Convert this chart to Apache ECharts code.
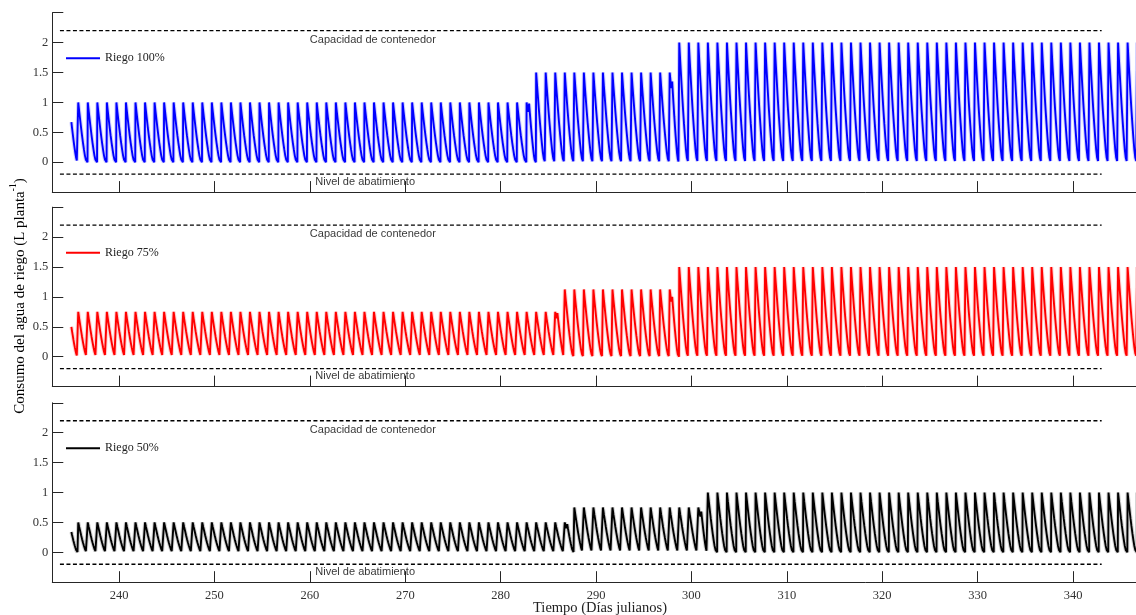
<!DOCTYPE html>
<html>
<head>
<meta charset="utf-8">
<script src="https://cdn.jsdelivr.net/npm/echarts@6/dist/echarts.min.js"></script>
<style>
  html, body { margin: 0; padding: 0; background: #ffffff; }
  #chart { width: 1136px; height: 615px; }
</style>
</head>
<body>
<div id="chart"></div>
<script>
// ---- data -------------------------------------------------------------
const xTickDays = [240, 250, 260, 270, 280, 290, 300, 310, 320, 330, 340];
const yTicks = [-0.5, 0, 0.5, 1, 1.5, 2, 2.5];

const seriesNames = ['Riego 100%', 'Riego 75%', 'Riego 50%'];
const seriesColors = ['#0000ff', '#ff0000', '#000000'];

// container capacity / depletion thresholds (L planta-1)
const capacityLevel = 2.2;
const depletionLevel = -0.2;
const guideFrom = 233.8;
const guideTo = 343.0;
const guideLabels = ['Capacidad de contenedor', 'Nivel de abatimiento'];
const guideLabelDays = [266.6, 265.8];

// first reading and the end of the record (Julian day)
const firstDay = 235.0;
const lastDay = 347.2;
const firstValue100 = 0.67;
const firstValue75 = 0.50;
const firstValue50 = 0.34;

// irrigation refills: day of first refill at each dose and the dose reached
const refillStart100 = [235.72, 283.72, 298.72];
const refillLevel100 = [1.0, 1.5, 2.0];
const refillStart75 = [235.72, 286.72, 298.72];
const refillLevel75 = [0.75, 1.125, 1.5];
const refillStart50 = [235.72, 287.72, 301.72];
const refillLevel50 = [0.5, 0.75, 1.0];

// short extra refill before a dose change: [dip day, dip value, refill day, refill value]
const extraRefill100 = [[282.88, 0.84, 282.98, 0.98], [297.88, 1.24, 297.98, 1.35]];
const extraRefill75 = [[285.86, 0.64, 285.95, 0.73], [297.88, 0.92, 297.98, 1.00]];
const extraRefill50 = [[286.88, 0.40, 286.98, 0.47], [300.93, 0.60, 301.03, 0.68]];

// daily drawdown after a refill: days elapsed and share of the refilled volume left
const cycleOffset = [0, 0.10, 0.20, 0.30, 0.40, 0.50, 0.60, 0.70, 0.80, 0.90, 0.97];
const cycleFraction = [1, 0.85, 0.71, 0.57, 0.44, 0.32, 0.21, 0.11, 0.04, 0.01, 0];
const riseTime = 0.03;

// ---- series construction --------------------------------------------
function levelAt(starts, levels, t) {
  let v = levels[0];
  for (let i = 0; i < starts.length; i++) {
    if (t >= starts[i] - 1e-6) v = levels[i];
  }
  return v;
}

function drawdown(pts, t0, v0, t1) {
  const span = cycleOffset[cycleOffset.length - 1];
  for (let i = 0; i < cycleOffset.length; i++) {
    pts.push([t0 + cycleOffset[i] / span * (t1 - t0), v0 * cycleFraction[i]]);
  }
}

function buildSeries(starts, levels, extras, startValue) {
  const pts = [];
  drawdown(pts, firstDay, startValue, starts[0] - riseTime);
  for (let k = 0; starts[0] + k < lastDay; k++) {
    const t = starts[0] + k;
    const level = levelAt(starts, levels, t);
    const end = t + 1 - riseTime;
    const extra = extras.find(e => e[2] > t && e[2] < t + 1);
    if (extra) {
      pts.push([t, level]);
      pts.push([extra[0], extra[1]]);
      drawdown(pts, extra[2], extra[3], end);
    } else {
      drawdown(pts, t, level, end);
    }
  }
  return pts;
}

const seriesData = [
  buildSeries(refillStart100, refillLevel100, extraRefill100, firstValue100),
  buildSeries(refillStart75, refillLevel75, extraRefill75, firstValue75),
  buildSeries(refillStart50, refillLevel50, extraRefill50, firstValue50)
];

// ---- layout -----------------------------------------------------------
const gridTops = [12.7, 207.2, 402.8];
const gridHeight = 179.4;
const axisColor = '#262626';
const serif = '"Liberation Serif", "DejaVu Serif", serif';
const sans = '"Liberation Sans", Arial, sans-serif';

const grids = [], xAxes = [], yAxes = [], series = [], legends = [];

for (let i = 0; i < 3; i++) {
  grids.push({ left: 52.3, right: 0, top: gridTops[i], height: gridHeight, containLabel: false });

  xAxes.push({
    type: 'value', gridIndex: i, min: 233, max: 346.6,
    axisLine: { show: true, onZero: false, lineStyle: { color: axisColor, width: 1 } },
    axisTick: { show: true, inside: true, length: 11, customValues: xTickDays,
                lineStyle: { color: axisColor, width: 1 } },
    axisLabel: { show: i === 2, customValues: xTickDays, margin: 7,
                 fontFamily: serif, fontSize: 12.5, color: '#333333' },
    splitLine: { show: false }
  });

  yAxes.push({
    type: 'value', gridIndex: i, min: -0.5, max: 2.5, interval: 0.5,
    axisLine: { show: true, onZero: false, lineStyle: { color: axisColor, width: 1 } },
    axisTick: { show: true, inside: true, length: 11, lineStyle: { color: axisColor, width: 1 } },
    axisLabel: {
      margin: 4, fontFamily: serif, fontSize: 12.5, color: '#333333',
      formatter: v => (v === yTicks[0] || v === yTicks[yTicks.length - 1]) ? '' : String(v)
    },
    splitLine: { show: false }
  });

  // soft band under the trace
  series.push({
    type: 'line', xAxisIndex: i, yAxisIndex: i, silent: true,
    data: seriesData[i], symbol: 'none', showSymbol: false,
    lineStyle: { color: seriesColors[i], width: 4, opacity: 0.18 },
    z: 2
  });

  series.push({
    name: seriesNames[i], type: 'line', xAxisIndex: i, yAxisIndex: i,
    data: seriesData[i], symbol: 'none', showSymbol: false, smooth: false,
    lineStyle: { color: seriesColors[i], width: 1.9 },
    itemStyle: { color: seriesColors[i] },
    z: 3
  });

  // dashed thresholds
  [capacityLevel, depletionLevel].forEach((lvl, j) => {
    series.push({
      type: 'line', xAxisIndex: i, yAxisIndex: i, symbol: 'none', silent: true,
      data: [[guideFrom, lvl], [guideTo, lvl]],
      lineStyle: { color: '#000000', width: 1.4, type: [4, 2.5] },
      z: 2
    });
    series.push({
      type: 'scatter', xAxisIndex: i, yAxisIndex: i, symbolSize: 0, silent: true,
      data: [[guideLabelDays[j], lvl]],
      label: {
        show: true, position: 'bottom', distance: j === 0 ? 3.5 : 2,
        formatter: guideLabels[j],
        fontFamily: sans, fontSize: 11, color: '#000000'
      },
      z: 4
    });
  });

  legends.push({
    data: [{ name: seriesNames[i], icon: 'rect' }],
    left: 66, top: gridTops[i] + 44.5 - 5,
    padding: 0,
    itemWidth: 34, itemHeight: 2, itemGap: 5,
    selectedMode: false,
    textStyle: { fontFamily: serif, fontSize: 12, color: '#222222' }
  });
}

const chart = echarts.init(document.getElementById('chart'), null, { renderer: 'canvas' });
chart.setOption({
  animation: false,
  backgroundColor: '#ffffff',
  grid: grids,
  xAxis: xAxes,
  yAxis: yAxes,
  legend: legends,
  series: series,
  graphic: [
    {
      type: 'text', x: 18, y: 296, rotation: Math.PI / 2,
      style: {
        text: '{b|Consumo del agua de riego (L planta}{s|-1}{b|)}',
        align: 'center', verticalAlign: 'middle',
        rich: {
          b: { fontFamily: serif, fontSize: 15, color: '#222222', lineHeight: 19, verticalAlign: 'bottom' },
          s: { fontFamily: serif, fontSize: 9.5, color: '#222222', lineHeight: 19, verticalAlign: 'top', padding: [0, 0, 8, 0] }
        }
      }
    },
    {
      type: 'text', x: 600, y: 608,
      style: {
        text: 'Tiempo (Días julianos)', align: 'center', verticalAlign: 'middle',
        fontFamily: serif, fontSize: 14.5, fill: '#222222'
      }
    }
  ]
});
</script>
</body>
</html>
